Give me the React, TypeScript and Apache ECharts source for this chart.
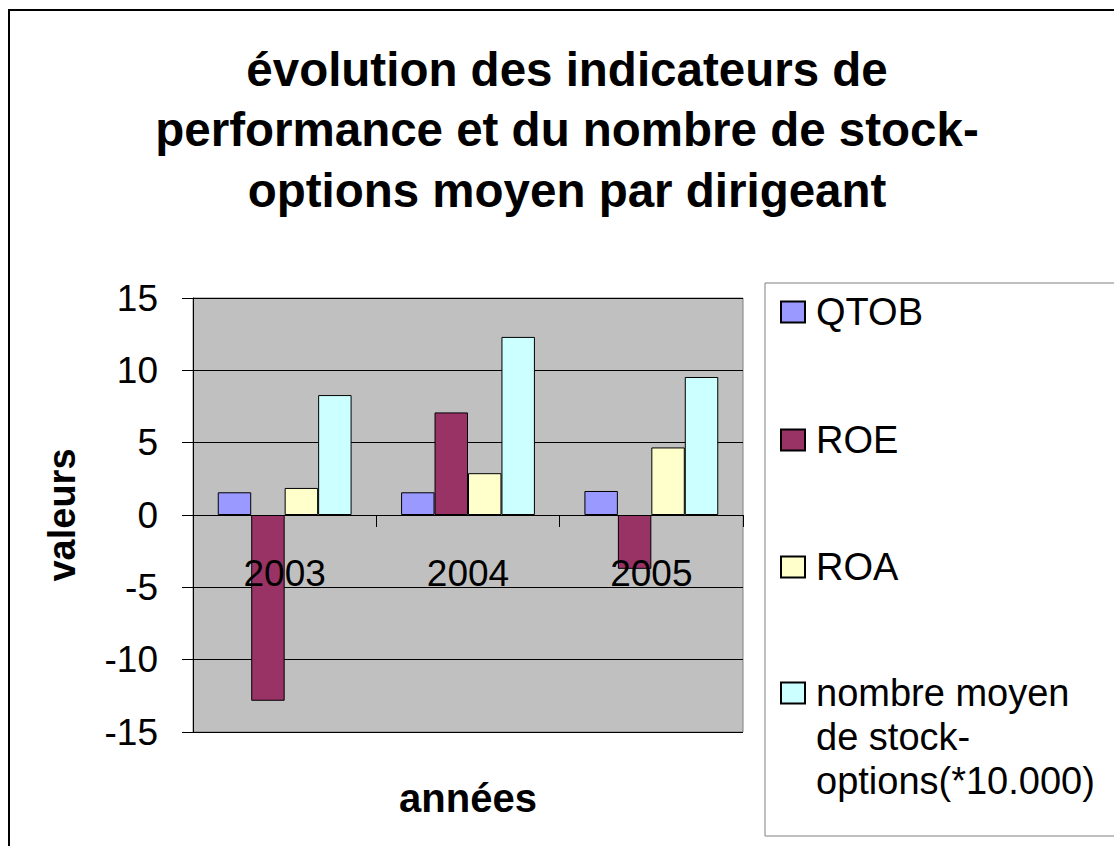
import React, { useEffect, useRef } from "react";
import * as echarts from "echarts";

const categories = ["2003", "2004", "2005"];
const qtob = [1.57, 1.57, 1.66];
const roe = [-12.84, 7.09, -3.72];
const roa = [1.87, 2.89, 4.67];
const stockOptions = [8.29, 12.31, 9.54];
const yTicks = { min: -15, max: 15, interval: 5 };
const seriesNames = ["QTOB", "ROE", "ROA", "nombre moyen de stock-options(*10.000)"];
const legendLabels: Record<string, string> = {
  QTOB: "QTOB",
  ROE: "ROE",
  ROA: "ROA",
  "nombre moyen de stock-options(*10.000)": "\n\nnombre moyen\nde stock-\noptions(*10.000)",
};
const colors = ["#9999FF", "#993366", "#FFFFCC", "#CCFFFF"];

const FONT = "'Liberation Sans', Arial, sans-serif";

export default function App() {
  const ref = useRef<HTMLDivElement>(null);
  useEffect(() => {
    if (!ref.current) return;
    const chart = echarts.init(ref.current, undefined, { renderer: "svg" });
    const values = [qtob, roe, roa, stockOptions];
    const legendTops = [290, 418, 545, 583];
    const legends = seriesNames.map((n, i) => ({
      data: [n],
      left: 780,
      top: legendTops[i],
      orient: "vertical",
      padding: 0,
      itemWidth: 24,
      itemHeight: 21,
      icon: "rect",
      selectedMode: false,
      formatter: (name: string) => legendLabels[name] ?? name,
      textStyle: {
        fontFamily: FONT,
        fontSize: 38,
        lineHeight: 44,
        color: "#000",
        padding: [0, 0, 0, 6],
      },
    }));
    chart.setOption({
      animation: false,
      backgroundColor: "#fff",
      color: colors,
      title: {
        text: "évolution des indicateurs de\nperformance et du nombre de stock-\noptions moyen par dirigeant",
        left: 567,
        top: 39,
        padding: 0,
        textAlign: "center",
        textStyle: {
          fontFamily: FONT,
          fontSize: 47.5,
          fontWeight: "bold",
          lineHeight: 60.5,
          color: "#000",
        },
      },
      legend: legends,
      grid: {
        left: 193,
        top: 298,
        width: 550,
        height: 434,
        show: true,
        backgroundColor: "#C0C0C0",
        borderColor: "#808080",
        borderWidth: 1,
        containLabel: false,
        outerBoundsMode: "none",
      },
      xAxis: {
        type: "category",
        data: categories,
        z: 3,
        name: "années",
        nameLocation: "middle",
        nameGap: 46,
        nameTextStyle: { fontFamily: FONT, fontSize: 40, fontWeight: "bold", color: "#000" },
        axisLine: { onZero: true, lineStyle: { color: "#000", width: 1 } },
        axisTick: { show: true, length: 12, interval: 0, lineStyle: { color: "#000" } },
        axisLabel: { fontFamily: FONT, fontSize: 37, color: "#000", margin: -177, interval: 0 },
        splitLine: { show: false },
      },
      yAxis: {
        type: "value",
        min: yTicks.min,
        max: yTicks.max,
        interval: yTicks.interval,
        name: "valeurs",
        nameLocation: "middle",
        nameGap: 112,
        nameTextStyle: { fontFamily: FONT, fontSize: 38, fontWeight: "bold", color: "#000" },
        axisLine: { show: true, lineStyle: { color: "#000", width: 1 } },
        axisTick: { show: true, length: 11, lineStyle: { color: "#000" } },
        axisLabel: { fontFamily: FONT, fontSize: 37, color: "#000", margin: 35 },
        splitLine: { show: true, lineStyle: { color: "#000", width: 1 } },
      },
      series: seriesNames.map((n, i) => ({
        name: n,
        type: "bar",
        data: values[i],
        barGap: "0%",
        barCategoryGap: "27%",
        itemStyle: { color: colors[i], borderColor: "#000", borderWidth: 1 },
      })),
      graphic: [
        {
          type: "rect",
          shape: { x: 765, y: 283, width: 400, height: 553 },
          style: { fill: "none", stroke: "#808080", lineWidth: 1 },
          z: -1,
        },
        {
          type: "rect",
          shape: { x: 9, y: 10, width: 1200, height: 900 },
          style: { fill: "none", stroke: "#000", lineWidth: 2 },
          z: -1,
        },
      ],
    });
    return () => chart.dispose();
  }, []);
  return (
    <div
      ref={ref}
      style={{ position: "fixed", left: 0, top: 0, width: 1114, height: 846, background: "#fff" }}
    />
  );
}
